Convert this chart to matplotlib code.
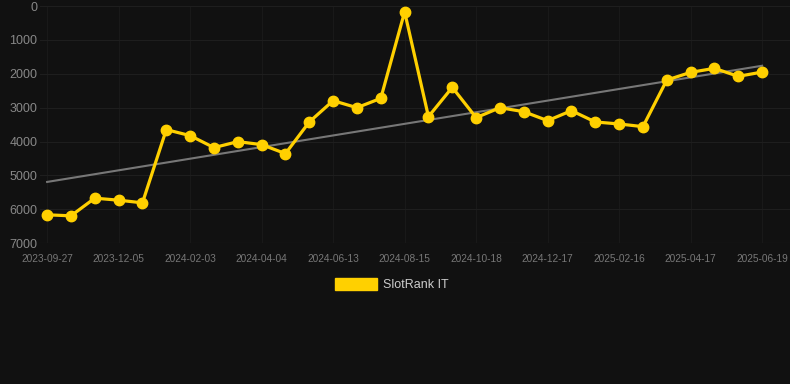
import numpy as np
import matplotlib
matplotlib.use("Agg")
import matplotlib.pyplot as plt

# SlotRank IT ranking over time (lower rank number = better, axis inverted)
dates = [
    "2023-09-27", "2023-10-20", "2023-11-12", "2023-12-05", "2023-12-25",
    "2024-01-14", "2024-02-03", "2024-02-23", "2024-03-14", "2024-04-04",
    "2024-04-27", "2024-05-20", "2024-06-13", "2024-07-04", "2024-07-25",
    "2024-08-15", "2024-09-05", "2024-09-26", "2024-10-18", "2024-11-07",
    "2024-11-27", "2024-12-17", "2025-01-06", "2025-01-27", "2025-02-16",
    "2025-03-08", "2025-03-28", "2025-04-17", "2025-05-08", "2025-05-29",
    "2025-06-19",
]
ranks = [
    6165, 6195, 5673, 5733, 5811,
    3648, 3825, 4180, 4003, 4091,
    4357, 3422, 2793, 3000, 2724,
    168, 3265, 2399, 3295, 3000,
    3118, 3383, 3088, 3422, 3481,
    3560, 2183, 1956, 1838, 2074,
    1947,
]
series_label = "SlotRank IT"

bg = "#111111"
gold = "#FFD000"

plt.rcParams["font.family"] = ["Liberation Sans", "DejaVu Sans"]

fig = plt.figure(figsize=(7.9, 3.84), dpi=100, facecolor=bg)
ax = fig.add_axes([0.0506, 0.367, 0.9494, 0.617], facecolor=bg)

x = np.arange(len(ranks))

# linear trend
coef = np.polyfit(x, ranks, 1)
ax.plot(x, np.polyval(coef, x), color="#777777", linewidth=1.5, zorder=2)

ax.plot(x, ranks, color=gold, linewidth=2.3, marker="o", markersize=7.5,
        markerfacecolor=gold, markeredgecolor=gold, label=series_label, zorder=3)

ax.set_ylim(7000, 0)
ax.set_yticks(range(0, 7001, 1000))
ax.set_xlim(-0.3, len(ranks) - 1 + 1.17)
ticks = x[::3]
ax.set_xticks(ticks)
ax.set_xticklabels([dates[i] for i in ticks])

ax.grid(True, axis="y", color="#1e1e1e", linewidth=0.8)
ax.grid(True, axis="x", color="#191919", linewidth=0.8)
ax.axhline(7000, color="#262626", linewidth=0.8, zorder=1)
ax.set_axisbelow(True)
for s in ax.spines.values():
    s.set_visible(False)
ax.tick_params(axis="y", colors="#888888", labelsize=9, length=0, pad=2)
ax.tick_params(axis="x", colors="#777777", labelsize=7.3, length=0, pad=8)

leg = fig.legend(handles=[plt.Rectangle((0, 0), 1, 1, color=gold)],
                 labels=[series_label], loc="center", bbox_to_anchor=(0.496, 0.258),
                 frameon=False, fontsize=9, handlelength=3.3, handleheight=1.0,
                 handletextpad=0.5)
for t in leg.get_texts():
    t.set_color("#cccccc")

fig.savefig("out.png", dpi=100, facecolor=bg)
